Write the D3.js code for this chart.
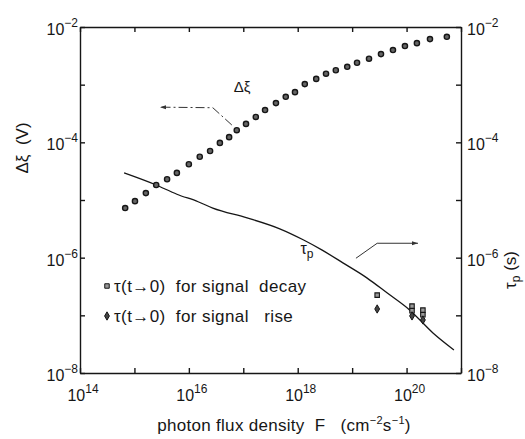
<!DOCTYPE html>
<html>
<meta charset="utf-8">
<style>
  body { margin: 0; background: #fff; }
  text { font-family: "Liberation Sans", Arial, sans-serif; fill: #161616; }
  .axis path, .axis line { stroke: #161616; stroke-width: 1.4; }
  .dot { fill: #666; stroke: #161616; stroke-width: 1.4; }
  .taup { fill: none; stroke: #161616; stroke-width: 1.3; }
  .arrow { fill: none; stroke: #333; stroke-width: 1; }
</style>
<body>
<script src="https://d3js.org/d3.v7.min.js"></script>
<script>
  // values as log10 exponents
  // delta xi (V) vs photon flux F
  const dxiFluxExp = [14.83, 15.01, 15.21, 15.40, 15.60, 15.78, 16.00, 16.20, 16.39, 16.57, 16.74,
    16.88, 17.05, 17.23, 17.40, 17.60, 17.78, 17.95, 18.13, 18.34, 18.52, 18.70, 18.91, 19.09,
    19.31, 19.53, 19.75, 19.97, 20.19, 20.43, 20.74];
  const dxiExp = [-5.14, -5.02, -4.88, -4.74, -4.64, -4.53, -4.38, -4.25, -4.15, -4.01, -3.91,
    -3.79, -3.68, -3.56, -3.44, -3.32, -3.21, -3.13, -2.99, -2.90, -2.81, -2.75, -2.69, -2.62,
    -2.55, -2.47, -2.40, -2.33, -2.28, -2.21, -2.17];

  // tau_p (s) curve
  const tauFluxExp = [14.81, 15.40, 15.78, 16.17, 16.44, 17.07, 17.67, 18.10, 18.45, 18.83, 19.27, 19.64, 20.06, 20.49, 20.87];
  const tauExp = [-4.53, -4.74, -4.90, -5.03, -5.14, -5.31, -5.50, -5.69, -5.87, -6.09, -6.35, -6.61, -6.91, -7.31, -7.60];

  // tau(t->0) measured points
  const decayFluxExp = [19.46, 20.10, 20.10, 20.30, 20.30];
  const decayExp = [-6.65, -6.84, -6.92, -6.91, -6.99];
  const riseFluxExp = [19.46, 20.10, 20.30];
  const riseExp = [-6.89, -7.01, -7.08];

  const xTickExp = [14, 15, 16, 17, 18, 19, 20, 21];
  const xLabelExp = [14, 16, 18, 20];
  const yTickExp = [-8, -7, -6, -5, -4, -3, -2];
  const yLabelExp = [-8, -6, -4, -2];

  const width = 525, height = 439;
  const margin = { top: 27, right: 64, bottom: 66, left: 80 };

  const svg = d3.select("body").append("svg")
    .attr("width", width)
    .attr("height", height);

  const x = d3.scaleLog().domain([1e14, 1e21]).range([margin.left, width - margin.right]);
  const y = d3.scaleLog().domain([1e-8, 1e-2]).range([height - margin.bottom, margin.top]);
  const p = e => Math.pow(10, e);

  // frame with inward ticks
  const xt = xTickExp.map(p), yt = yTickExp.map(p);
  svg.append("g").attr("class", "axis")
    .attr("transform", `translate(0,${height - margin.bottom})`)
    .call(d3.axisBottom(x).tickValues(xt).tickSizeInner(-5).tickSizeOuter(0).tickFormat(""));
  svg.append("g").attr("class", "axis")
    .attr("transform", `translate(0,${margin.top})`)
    .call(d3.axisTop(x).tickValues(xt).tickSizeInner(-5).tickSizeOuter(0).tickFormat(""));
  svg.append("g").attr("class", "axis")
    .attr("transform", `translate(${margin.left},0)`)
    .call(d3.axisLeft(y).tickValues(yt).tickSizeInner(-5).tickSizeOuter(0).tickFormat(""));
  svg.append("g").attr("class", "axis")
    .attr("transform", `translate(${width - margin.right},0)`)
    .call(d3.axisRight(y).tickValues(yt).tickSizeInner(-5).tickSizeOuter(0).tickFormat(""));

  function power(sel, exp) {
    sel.append("tspan").text("10");
    sel.append("tspan").attr("dy", -8).attr("font-size", 12).text(exp < 0 ? "\u2212" + (-exp) : exp);
  }

  // tick labels
  svg.selectAll(".xl").data(xLabelExp).join("text")
    .attr("class", "xl")
    .attr("x", d => x(p(d)) + 3)
    .attr("y", height - margin.bottom + 28)
    .attr("text-anchor", "middle")
    .attr("font-size", 16)
    .each(function (d) { power(d3.select(this), d); });
  svg.selectAll(".yl").data(yLabelExp).join("text")
    .attr("class", "yl")
    .attr("x", margin.left - 2)
    .attr("y", d => y(p(d)) + 8)
    .attr("text-anchor", "end")
    .attr("font-size", 16)
    .each(function (d) { power(d3.select(this), d); });
  svg.selectAll(".yr").data(yLabelExp).join("text")
    .attr("class", "yr")
    .attr("x", width - margin.right + 6)
    .attr("y", d => y(p(d)) + 8)
    .attr("font-size", 16)
    .each(function (d) { power(d3.select(this), d); });

  // axis titles
  const xt2 = svg.append("text")
    .attr("x", 284).attr("y", 431)
    .attr("text-anchor", "middle")
    .attr("font-size", 17)
    .attr("letter-spacing", 0.3)
    .style("white-space", "pre");
  xt2.append("tspan").text("photon flux density  F   (cm");
  xt2.append("tspan").attr("dy", -7).attr("font-size", 11).text("\u22122");
  xt2.append("tspan").attr("dy", 7).text("s");
  xt2.append("tspan").attr("dy", -7).attr("font-size", 11).text("\u22121");
  xt2.append("tspan").attr("dy", 7).text(")");

  svg.append("text")
    .attr("transform", "translate(28,148) rotate(-90)")
    .attr("text-anchor", "middle")
    .attr("font-size", 17)
    .style("white-space", "pre")
    .text("\u0394\u03be  (V)");

  const rt = svg.append("text")
    .attr("transform", "translate(516,270) rotate(-90)")
    .attr("text-anchor", "middle")
    .attr("font-size", 17)
    .style("white-space", "pre");
  rt.append("tspan").text("\u03c4");
  rt.append("tspan").attr("dy", 4).attr("font-size", 12).text("p");
  rt.append("tspan").attr("dy", -4).text(" (s)");

  // tau_p curve
  const line = d3.line().x(d => x(p(d[0]))).y(d => y(p(d[1])));
  const smooth = d3.line().curve(d3.curveMonotoneX).x(d => x(p(d[0]))).y(d => y(p(d[1])));
  svg.append("path")
    .attr("class", "taup")
    .attr("d", smooth(d3.zip(tauFluxExp, tauExp)));

  // delta xi dots
  svg.selectAll(".dot").data(d3.zip(dxiFluxExp, dxiExp)).join("circle")
    .attr("class", "dot")
    .attr("cx", d => x(p(d[0])))
    .attr("cy", d => y(p(d[1])))
    .attr("r", 2.6);

  // measured tau points
  const sq = d3.symbol(d3.symbolSquare, 20);
  const dia = d3.symbol(d3.symbolDiamond, 20);
  svg.selectAll(".decay").data(d3.zip(decayFluxExp, decayExp)).join("path")
    .attr("class", "decay")
    .attr("d", sq)
    .attr("transform", d => `translate(${x(p(d[0]))},${y(p(d[1]))})`)
    .attr("fill", "#999").attr("stroke", "#161616").attr("stroke-width", 1.1);
  svg.selectAll(".rise").data(d3.zip(riseFluxExp, riseExp)).join("path")
    .attr("class", "rise")
    .attr("d", dia)
    .attr("transform", d => `translate(${x(p(d[0]))},${y(p(d[1]))})`)
    .attr("fill", "#444").attr("stroke", "#161616").attr("stroke-width", 1);

  // annotation arrows and series labels
  const arrowPts = [
    { pts: [[16.79, -3.70], [16.44, -3.40], [15.47, -3.39]], dash: "9,3,2,3" },
    { pts: [[19.07, -6.01], [19.46, -5.75], [20.21, -5.75]], dash: null }
  ];
  arrowPts.forEach(a => {
    svg.append("path").attr("class", "arrow")
      .attr("stroke-dasharray", a.dash)
      .attr("d", line(a.pts));
    const [e0, e1] = a.pts.slice(-2);
    const x1 = x(p(e1[0])), y1 = y(p(e1[1]));
    const dir = Math.sign(x(p(e1[0])) - x(p(e0[0])));
    svg.append("path")
      .attr("d", `M${x1},${y1} l${-dir * 6},-2 l0,4 z`)
      .attr("fill", "#333");
  });

  svg.append("text")
    .attr("x", x(p(16.98))).attr("y", y(p(-3.04)) + 5)
    .attr("text-anchor", "middle")
    .attr("font-size", 15)
    .text("\u0394\u03be");
  const tl = svg.append("text")
    .attr("x", x(p(18.17))).attr("y", y(p(-5.87)) + 4)
    .attr("text-anchor", "middle")
    .attr("font-size", 16);
  tl.append("tspan").text("\u03c4");
  tl.append("tspan").attr("dy", 4).attr("font-size", 12).text("p");

  // legend
  const legend = [
    { sym: sq, fill: "#999", label: "\u03c4(t\u21920)  for signal  decay" },
    { sym: dia, fill: "#444", label: "\u03c4(t\u21920)  for signal   rise" }
  ];
  legend.forEach((l, i) => {
    const ly = 286 + i * 30;
    svg.append("path")
      .attr("d", l.sym)
      .attr("transform", `translate(107,${ly})`)
      .attr("fill", l.fill).attr("stroke", "#161616").attr("stroke-width", 1);
    svg.append("text")
      .attr("x", 114).attr("y", ly + 6)
      .attr("font-size", 17)
      .attr("letter-spacing", 0.4)
      .style("white-space", "pre")
      .text(l.label);
  });
</script>
</body>
</html>
